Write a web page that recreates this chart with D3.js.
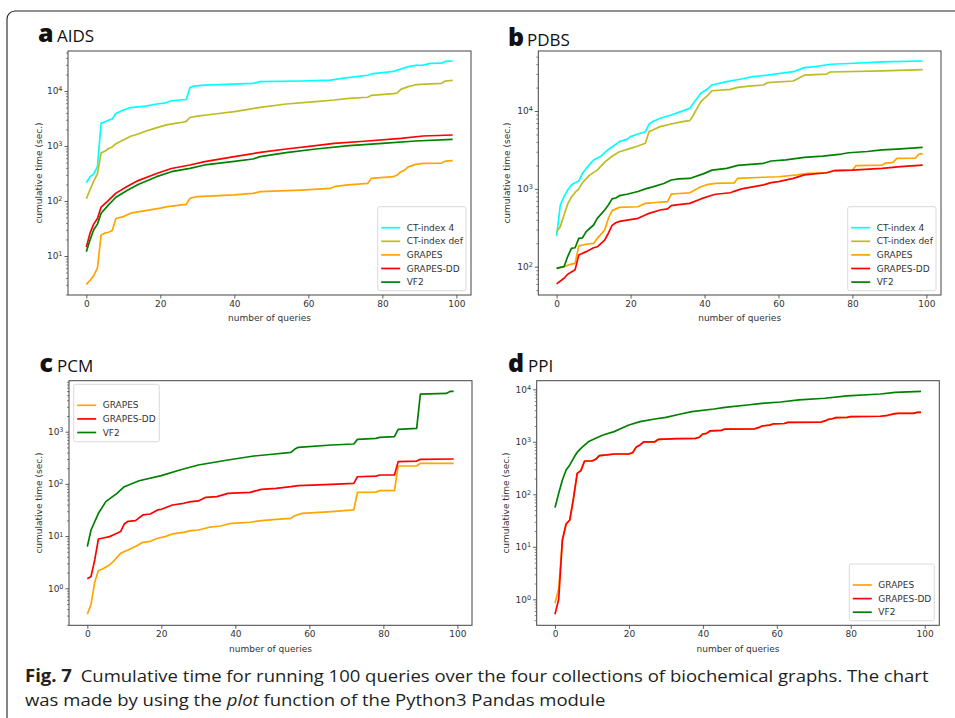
<!DOCTYPE html>
<html>
<head>
<meta charset="utf-8">
<script src="https://cdn.jsdelivr.net/npm/d3@7"></script>
<style>
  body { margin: 0; background: #fff; }
  svg { display: block; }
</style>
</head>
<body>
<svg id="fig" width="955" height="718"></svg>
<script>
// ---------------------------------------------------------------------------
// data: [query index, cumulative seconds]
// ---------------------------------------------------------------------------
const xTicks = [0, 20, 40, 60, 80, 100];
const allNames = ['CT-index 4', 'CT-index def', 'GRAPES', 'GRAPES-DD', 'VF2'];
const smallNames = ['GRAPES', 'GRAPES-DD', 'VF2'];
const seriesColors = ['#00ffff', '#bcbd22', '#ffa500', '#ff0000', '#008000'];

// a AIDS
const aidsCt4 = [[0,215],[1,277],[2,310],[3,420],[4,2600],[5,2750],[6,2950],[7,3100],[8,3900],[10,4500],[12,5000],[16,5300],[19,5800],[21,6000],[23,6650],[27,7000],[28,11500],[29,12300],[32,12800],[45,13800],[47,14800],[58,15200],[66,15800],[69,17000],[73,18200],[76,19300],[77,20400],[80,21500],[83,22700],[85,25100],[87,27700],[89,29300],[91,29600],[93,31800],[96,32000],[97,34500],[99,35100]];
const aidsCtDef = [[0,110],[1,160],[2,230],[3,310],[4,750],[5,800],[6,900],[7,960],[8,1100],[10,1290],[12,1500],[14,1650],[16,1850],[18,2050],[20,2250],[22,2450],[24,2580],[26,2700],[27,2800],[28,3300],[30,3500],[33,3700],[40,4200],[47,5050],[54,5800],[62,6400],[67,6850],[71,7360],[76,7700],[77,8300],[83,8940],[84,9200],[85,10700],[87,12000],[89,13000],[96,13800],[97,15200],[99,15600]];
const aidsGrapes = [[0,3.05],[1,3.6],[2,4.4],[3,6],[4,24],[5,26],[6,27],[7,29],[8,48],[10,52],[12,60],[16,67],[20,74],[22,79],[23,81],[27,87],[28,112],[30,120],[40,129],[45,138],[47,148],[58,158],[66,170],[67,182],[70,195],[76,209],[77,257],[83,277],[84,296],[85,341],[86,364],[87,418],[89,464],[91,484],[96,490],[97,530],[99,540]];
const aidsGrapesDD = [[0,14.4],[1,26],[2,38],[3,48],[4,77],[6,103],[8,139],[11,183],[14,235],[19,317],[23,390],[28,452],[32,519],[40,640],[47,767],[54,882],[62,1014],[67,1117],[76,1232],[85,1380],[91,1520],[99,1585]];
const aidsVf2 = [[0,12],[1,19.5],[2,30],[3,38],[4,60],[6,85],[8,117],[11,155],[14,200],[19,277],[23,341],[28,393],[32,452],[40,526],[45,580],[47,640],[54,758],[62,882],[71,1014],[80,1117],[89,1232],[99,1320]];

// b PDBS
const pdbsCt4 = [[0,248],[1,620],[2,795],[3,966],[4,1120],[5,1200],[6,1260],[7,1580],[8,1830],[10,2350],[12,2630],[14,3210],[15,3450],[17,4040],[19,4320],[20,4680],[22,5070],[24,5420],[25,6760],[26,7300],[28,8060],[31,8900],[33,9600],[36,10800],[37,12560],[39,16900],[41,19500],[42,21600],[46,23800],[50,25800],[53,27600],[57,28900],[64,32000],[67,36100],[70,37200],[74,39900],[79,40800],[88,42700],[99,43900]];
const pdbsCtDef = [[0,282],[1,327],[2,460],[3,640],[4,780],[5,900],[6,1000],[7,1200],[9,1510],[11,1740],[13,2200],[14,2400],[15,2630],[17,3000],[20,3310],[22,3550],[24,3850],[25,5420],[26,5700],[28,6300],[31,6800],[34,7300],[36,7520],[37,8900],[39,13200],[41,16100],[42,18200],[47,19000],[49,20100],[52,20900],[56,21600],[57,23100],[64,24300],[67,28900],[73,29800],[74,31700],[88,32700],[99,34000]];
const pdbsGrapes = [[0,95],[2,100],[4,108],[5,110],[6,185],[8,194],[10,199],[11,231],[13,295],[14,417],[15,525],[17,578],[22,589],[23,620],[24,650],[26,663],[30,684],[31,857],[33,871],[36,890],[37,946],[39,1062],[41,1140],[43,1175],[48,1190],[49,1365],[56,1410],[60,1430],[65,1510],[68,1585],[73,1610],[75,1710],[80,1740],[81,1990],[88,2020],[89,2140],[91,2185],[92,2460],[97,2480],[98,2800],[99,2830]];
const pdbsGrapesDD = [[0,60],[2,71],[3,80],[5,91],[6,141],[8,156],[10,175],[11,180],[13,220],[14,269],[15,339],[16,367],[17,382],[22,418],[24,461],[25,484],[28,535],[30,553],[31,608],[33,627],[36,651],[39,742],[42,827],[43,852],[47,890],[48,929],[50,1000],[56,1125],[58,1200],[60,1237],[64,1365],[67,1510],[73,1610],[75,1710],[80,1740],[88,1830],[93,1925],[99,2020]];
const pdbsVf2 = [[0,95],[1,98],[2,100],[3,135],[4,172],[5,175],[6,231],[7,235],[8,282],[10,343],[11,417],[13,535],[14,620],[15,742],[16,763],[17,817],[19,852],[22,925],[24,1000],[26,1060],[29,1170],[31,1300],[33,1340],[36,1360],[40,1580],[42,1740],[46,1830],[49,2000],[56,2130],[58,2280],[62,2350],[67,2540],[72,2630],[77,2800],[79,2910],[84,3020],[88,3160],[92,3240],[99,3410]];

// c PCM
const pcmGrapes = [[0,0.32],[1,0.49],[2,1.31],[3,2.19],[4,2.31],[6,2.8],[7,3.24],[9,4.68],[11,5.43],[13,6.3],[15,7.6],[17,7.94],[19,9.08],[21,9.78],[23,11],[26,11.8],[28,12.7],[30,13.1],[33,14.8],[36,15.6],[39,17.6],[44,18.4],[47,19.8],[51,20.9],[55,21.9],[56,24.5],[58,27.3],[66,29.4],[72,31.7],[73,68.9],[78,69.5],[79,74.2],[83,74.5],[84,220],[89,220],[90,248],[99,248]];
const pcmGrapesDD = [[0,1.53],[1,1.68],[2,3.49],[3,8.8],[4,9.1],[6,9.77],[7,10.5],[9,12.2],[10,17.1],[11,19.2],[13,19.8],[15,25.4],[17,26.5],[19,31.7],[20,32.6],[23,39.4],[26,42.5],[28,45.7],[30,47.1],[32,55.4],[35,57],[38,66],[44,68.9],[47,78.7],[51,82.3],[55,88.5],[57,92.5],[66,97.8],[72,102],[73,137],[78,141],[79,148],[83,148],[84,267],[89,274],[90,295],[99,300]];
const pcmVf2 = [[0,6.3],[1,13.1],[3,27.3],[5,45.7],[8,66],[10,88.5],[14,115],[20,144],[25,185],[30,230],[38,287],[45,342],[50,370],[55,400],[56,459],[57,501],[66,556],[72,581],[73,713],[78,745],[79,777],[83,802],[84,1109],[89,1158],[90,5260],[97,5420],[98,5900],[99,5900]];

// d PPI
const ppiGrapes = [[0,0.84],[1,1.6],[2,13.5],[3,27.2],[4,32.4],[5,84],[6,251],[7,282],[8,431],[10,431],[11,464],[12,546],[14,562],[16,586],[20,590],[21,620],[22,800],[23,871],[24,1000],[27,1000],[28,1117],[33,1150],[38,1166],[39,1220],[40,1410],[41,1450],[42,1620],[45,1650],[46,1750],[54,1770],[55,1860],[56,2000],[58,2080],[59,2190],[62,2230],[63,2350],[72,2380],[73,2500],[74,2690],[75,2750],[76,2880],[79,2930],[80,3020],[88,3070],[90,3200],[92,3440],[93,3500],[97,3510],[98,3660],[99,3680]];
const ppiGrapesDD = [[0,0.52],[1,1.0],[2,13.5],[3,27.2],[4,32.4],[5,84],[6,251],[7,282],[8,431],[10,431],[11,464],[12,546],[14,562],[16,586],[20,590],[21,620],[22,800],[23,871],[24,1000],[27,1000],[28,1117],[33,1150],[38,1166],[39,1220],[40,1410],[41,1450],[42,1620],[45,1650],[46,1750],[54,1770],[55,1860],[56,2000],[58,2080],[59,2190],[62,2230],[63,2350],[72,2380],[73,2500],[74,2690],[75,2750],[76,2880],[79,2930],[80,3020],[88,3070],[90,3200],[92,3440],[93,3490],[97,3490],[98,3640],[99,3640]];
const ppiVf2 = [[0,55.7],[1,105],[2,187],[3,290],[4,363],[5,485],[6,631],[7,752],[9,1000],[11,1166],[13,1350],[16,1563],[18,1807],[20,2090],[23,2420],[27,2720],[30,2930],[34,3390],[37,3760],[43,4220],[46,4540],[52,5020],[56,5410],[61,5730],[66,6290],[73,6760],[79,7470],[88,8150],[92,8770],[99,9160]];

// ---------------------------------------------------------------------------
// layout of the four panels
// ---------------------------------------------------------------------------
const panels = [
  { letter: 'a', name: 'AIDS', title: [38, 41.5, 57],
    box: [68, 51, 471, 295], yDomain: [Math.pow(10, 0.291), Math.pow(10, 4.727)],
    yTicks: [10, 100, 1000, 10000], yLabelX: 39,
    names: allNames, values: [aidsCt4, aidsCtDef, aidsGrapes, aidsGrapesDD, aidsVf2],
    legend: [377.7, 206.7, 88.3, 84] },
  { letter: 'b', name: 'PDBS', title: [508, 45.5, 527],
    box: [538.3, 51, 941, 295], yDomain: [Math.pow(10, 1.636), Math.pow(10, 4.771)],
    yTicks: [100, 1000, 10000], yLabelX: 507,
    names: allNames, values: [pdbsCt4, pdbsCtDef, pdbsGrapes, pdbsGrapesDD, pdbsVf2],
    legend: [847.7, 206.7, 88.3, 84] },
  { letter: 'c', name: 'PCM', title: [39.5, 371.5, 57],
    box: [69, 380.7, 472, 625.3], yDomain: [Math.pow(10, -0.709), Math.pow(10, 3.977)],
    yTicks: [1, 10, 100, 1000], yLabelX: 39,
    names: smallNames, values: [pcmGrapes, pcmGrapesDD, pcmVf2],
    legend: [73.7, 384.3, 85.6, 57.4] },
  { letter: 'd', name: 'PPI', title: [508, 371.5, 528],
    box: [536.7, 380.7, 939.3, 625.3], yDomain: [Math.pow(10, -0.495), Math.pow(10, 4.164)],
    yTicks: [1, 10, 100, 1000, 10000], yLabelX: 505.7,
    names: smallNames, values: [ppiGrapes, ppiGrapesDD, ppiVf2],
    legend: [849.3, 564, 85, 56.7] }
];

const colorOf = d3.scaleOrdinal().domain(allNames).range(seriesColors);
const axisFont = '"DejaVu Sans", sans-serif';
const textFont = '"Open Sans", "Noto Sans", sans-serif';
const ink = '#333';

const svg = d3.select('#fig');

// rounded outer frame of the figure
svg.append('path')
  .attr('d', 'M7,725 V19 A8,8 0 0 1 15,11 H962')
  .attr('fill', 'none')
  .attr('stroke', '#222')
  .attr('stroke-width', 1.1);

panels.forEach((p, pi) => {
  const [x0, y0, x1, y1] = p.box;
  const x = d3.scaleLinear().domain([-4.95, 103.95]).range([x0, x1]);
  const y = d3.scaleLog().domain(p.yDomain).range([y1, y0]);
  const g = svg.append('g');

  // panel title
  const t = g.append('text').attr('font-family', textFont).attr('fill', '#111');
  t.append('tspan').attr('x', p.title[0]).attr('y', p.title[1])
    .attr('font-size', 25).attr('font-weight', 800).text(p.letter);
  t.append('tspan').attr('x', p.title[2]).attr('y', p.title[1])
    .attr('font-size', 17).text(p.name);

  // lines
  const clipId = 'clip' + pi;
  g.append('clipPath').attr('id', clipId).append('rect')
    .attr('x', x0).attr('y', y0).attr('width', x1 - x0).attr('height', y1 - y0);
  const line = d3.line().x(d => x(d[0])).y(d => y(d[1]));
  g.append('g').attr('clip-path', `url(#${clipId})`)
    .selectAll('path')
    .data(p.values)
    .join('path')
    .attr('d', line)
    .attr('fill', 'none')
    .attr('stroke', (d, i) => colorOf(p.names[i]))
    .attr('stroke-width', 1.7)
    .attr('stroke-linejoin', 'round');

  // x axis
  const xa = g.append('g').attr('transform', `translate(0,${y1})`)
    .call(d3.axisBottom(x).tickValues(xTicks).tickSize(3.5).tickPadding(2).tickFormat(d3.format('d')));
  xa.select('.domain').remove();
  xa.selectAll('line').attr('stroke', ink).attr('stroke-width', 0.8);
  xa.selectAll('text').attr('font-family', axisFont).attr('font-size', 9).attr('fill', ink);

  // y axis: minor ticks
  const minor = [];
  const lo = Math.floor(Math.log10(p.yDomain[0])), hi = Math.ceil(Math.log10(p.yDomain[1]));
  for (let k = lo; k <= hi; k++) {
    for (let m = 2; m <= 9; m++) {
      const v = m * Math.pow(10, k);
      if (v > p.yDomain[0] && v < p.yDomain[1]) minor.push(v);
    }
  }
  const ym = g.append('g').attr('transform', `translate(${x0},0)`)
    .call(d3.axisLeft(y).tickValues(minor).tickSize(2).tickFormat(''));
  ym.select('.domain').remove();
  ym.selectAll('line').attr('stroke', ink).attr('stroke-width', 0.6);

  // y axis: major ticks with 10^n labels
  const ya = g.append('g').attr('transform', `translate(${x0},0)`)
    .call(d3.axisLeft(y).tickValues(p.yTicks).tickSize(3.5).tickPadding(2).tickFormat(() => '10'));
  ya.select('.domain').remove();
  ya.selectAll('line').attr('stroke', ink).attr('stroke-width', 0.8);
  ya.selectAll('text').attr('font-family', axisFont).attr('font-size', 9).attr('fill', ink)
    .append('tspan')
    .attr('dy', '-0.45em')
    .attr('font-size', 6.5)
    .text(d => String(Math.round(Math.log10(d))));

  // axes frame
  g.append('rect')
    .attr('x', x0).attr('y', y0).attr('width', x1 - x0).attr('height', y1 - y0)
    .attr('fill', 'none').attr('stroke', '#444').attr('stroke-width', 1);

  // axis labels
  g.append('text')
    .attr('x', (x0 + x1) / 2).attr('y', y1 + 26.3)
    .attr('text-anchor', 'middle')
    .attr('font-family', axisFont).attr('font-size', 9).attr('fill', ink)
    .text('number of queries');
  g.append('text')
    .attr('transform', `translate(${p.yLabelX + 3},${(y0 + y1) / 2}) rotate(-90)`)
    .attr('text-anchor', 'middle')
    .attr('font-family', axisFont).attr('font-size', 9).attr('fill', ink)
    .text('cumulative time (sec.)');

  // legend
  const [lx, ly, lw, lh] = p.legend;
  const lg = g.append('g');
  lg.append('rect')
    .attr('x', lx).attr('y', ly).attr('width', lw).attr('height', lh).attr('rx', 2)
    .attr('fill', '#fff').attr('fill-opacity', 0.8)
    .attr('stroke', '#d0d0d0').attr('stroke-width', 0.8);
  const items = lg.selectAll('g.item').data(p.names).join('g')
    .attr('transform', (d, i) => `translate(${lx},${ly + 21 + i * 13.6})`);
  items.append('line')
    .attr('x1', 3.5).attr('x2', 22.5)
    .attr('stroke', d => colorOf(d)).attr('stroke-width', 1.7);
  items.append('text')
    .attr('x', 29).attr('dy', '0.35em')
    .attr('font-family', axisFont).attr('font-size', 9).attr('fill', ink)
    .text(d => d);
});

// caption
const cap1 = svg.append('text').attr('font-family', textFont).attr('font-size', 17).attr('fill', '#231f20');
cap1.append('tspan').attr('font-weight', 700).text('Fig. 7');
cap1.append('tspan').attr('dx', 8).text('Cumulative time for running 100 queries over the four collections of biochemical graphs. The chart');
const cap2 = svg.append('text').attr('font-family', textFont).attr('font-size', 17).attr('fill', '#231f20');
cap2.append('tspan').text('was made by using the ');
cap2.append('tspan').attr('font-style', 'italic').text('plot');
cap2.append('tspan').text(' function of the Python3 Pandas module');

const k = 895 / cap1.node().getComputedTextLength();
cap1.attr('transform', `translate(25,681.5) scale(${k},1)`);
cap2.attr('transform', `translate(25,706) scale(${k},1)`);
</script>
</body>
</html>
